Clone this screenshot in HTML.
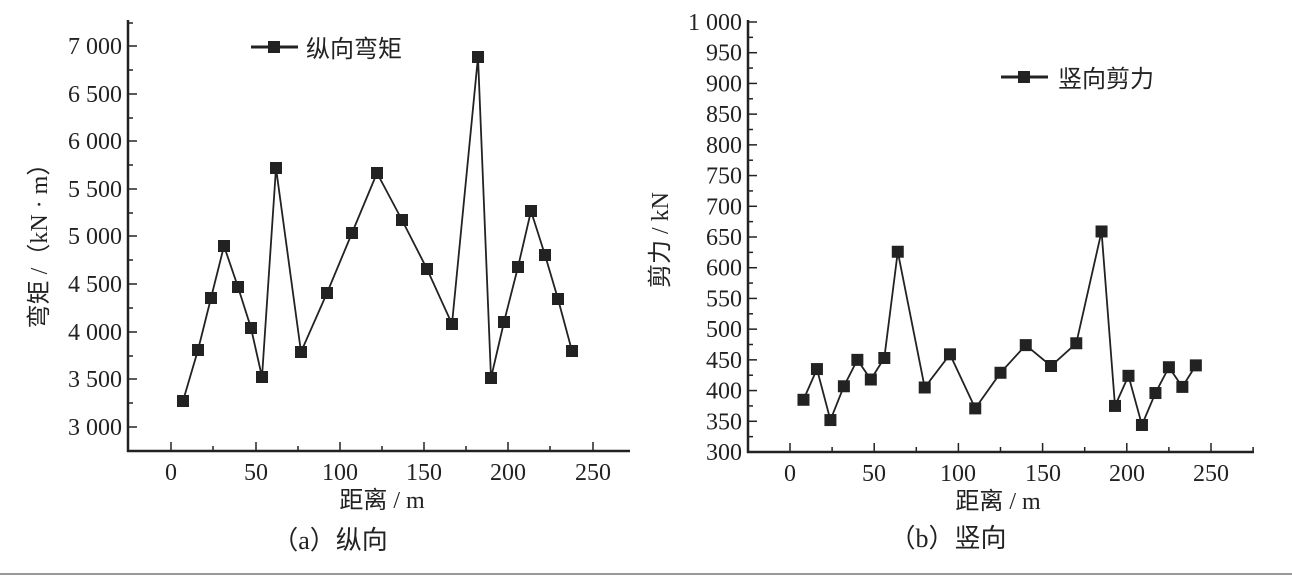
<!DOCTYPE html>
<html><head><meta charset="utf-8"><style>
body{margin:0;background:#fff;}
svg{display:block;}
text{font-family:"Liberation Serif","Noto Serif CJK SC",serif;fill:#222;}
.cj{font-family:"Liberation Serif","Noto Sans CJK SC",sans-serif;}
</style></head><body>
<svg width="1292" height="578" viewBox="0 0 1292 578" xmlns="http://www.w3.org/2000/svg">
<rect width="1292" height="578" fill="#fff"/>
<g id="a" stroke="#222" fill="none">
<line x1="128" y1="20" x2="128" y2="452" stroke-width="2.5"/>
<line x1="127" y1="451" x2="630" y2="451" stroke-width="2.5"/>
</g>
<g stroke="#222" stroke-width="1.5">
<line x1="128" y1="46" x2="137" y2="46"/><line x1="128" y1="94" x2="137" y2="94"/><line x1="128" y1="141" x2="137" y2="141"/><line x1="128" y1="189" x2="137" y2="189"/><line x1="128" y1="236" x2="137" y2="236"/><line x1="128" y1="284" x2="137" y2="284"/><line x1="128" y1="332" x2="137" y2="332"/><line x1="128" y1="379" x2="137" y2="379"/><line x1="128" y1="427" x2="137" y2="427"/>
<line x1="128" y1="70" x2="133" y2="70"/><line x1="128" y1="118" x2="133" y2="118"/><line x1="128" y1="165" x2="133" y2="165"/><line x1="128" y1="213" x2="133" y2="213"/><line x1="128" y1="260" x2="133" y2="260"/><line x1="128" y1="308" x2="133" y2="308"/><line x1="128" y1="356" x2="133" y2="356"/><line x1="128" y1="403" x2="133" y2="403"/><line x1="128" y1="23" x2="133" y2="23"/>
<line x1="171" y1="451" x2="171" y2="442"/><line x1="256" y1="451" x2="256" y2="442"/><line x1="340" y1="451" x2="340" y2="442"/><line x1="424" y1="451" x2="424" y2="442"/><line x1="508" y1="451" x2="508" y2="442"/><line x1="593" y1="451" x2="593" y2="442"/>
<line x1="213" y1="451" x2="213" y2="446"/><line x1="298" y1="451" x2="298" y2="446"/><line x1="382" y1="451" x2="382" y2="446"/><line x1="466" y1="451" x2="466" y2="446"/><line x1="550" y1="451" x2="550" y2="446"/>
</g>
<g font-size="24" text-anchor="end">
<text x="122" y="54">7 000</text><text x="122" y="102">6 500</text><text x="122" y="149">6 000</text><text x="122" y="197">5 500</text><text x="122" y="244">5 000</text><text x="122" y="292">4 500</text><text x="122" y="340">4 000</text><text x="122" y="387">3 500</text><text x="122" y="435">3 000</text>
</g>
<g font-size="24" text-anchor="middle">
<text x="171" y="480">0</text><text x="256" y="480">50</text><text x="340" y="480">100</text><text x="424" y="480">150</text><text x="508" y="480">200</text><text x="593" y="480">250</text>
<text x="382" y="508" class="cj">距离 / m</text>
<text x="330" y="549" class="cj" font-size="26">（a）纵向</text>
</g>
<text class="cj" font-size="24" text-anchor="middle" transform="translate(47,240) rotate(-90)">弯矩 /（kN · m）</text>
<polyline fill="none" stroke="#222" stroke-width="1.8" points="183,401 198,350 211,298 224,246 238,287 251,328 262,377 276,168 301,352 327,293 352,233 377,173 402,220 427,269 452,324 478,57 491,378 504,322 518,267 531,211 545,255 558,299 572,351"/>
<g fill="#222">
<rect x="177" y="395" width="12" height="12"/><rect x="192" y="344" width="12" height="12"/><rect x="205" y="292" width="12" height="12"/><rect x="218" y="240" width="12" height="12"/><rect x="232" y="281" width="12" height="12"/><rect x="245" y="322" width="12" height="12"/><rect x="256" y="371" width="12" height="12"/><rect x="270" y="162" width="12" height="12"/><rect x="295" y="346" width="12" height="12"/><rect x="321" y="287" width="12" height="12"/><rect x="346" y="227" width="12" height="12"/><rect x="371" y="167" width="12" height="12"/><rect x="396" y="214" width="12" height="12"/><rect x="421" y="263" width="12" height="12"/><rect x="446" y="318" width="12" height="12"/><rect x="472" y="51" width="12" height="12"/><rect x="485" y="372" width="12" height="12"/><rect x="498" y="316" width="12" height="12"/><rect x="512" y="261" width="12" height="12"/><rect x="525" y="205" width="12" height="12"/><rect x="539" y="249" width="12" height="12"/><rect x="552" y="293" width="12" height="12"/><rect x="566" y="345" width="12" height="12"/>
</g>
<line x1="251" y1="47" x2="298" y2="47" stroke="#222" stroke-width="3"/>
<rect x="268" y="41" width="12" height="12" fill="#222"/>
<text x="306" y="57" class="cj" font-size="24">纵向弯矩</text>

<g stroke="#222" fill="none">
<line x1="748" y1="20" x2="748" y2="453" stroke-width="2.5"/>
<line x1="747" y1="452" x2="1254" y2="452" stroke-width="2.5"/>
</g>
<g stroke="#222" stroke-width="1.5" id="bt"></g>
<g font-size="24" text-anchor="end" id="byl"></g>
<g font-size="24" text-anchor="middle">
<text x="790" y="481">0</text><text x="874" y="481">50</text><text x="958" y="481">100</text><text x="1043" y="481">150</text><text x="1127" y="481">200</text><text x="1211" y="481">250</text>
<text x="998" y="509" class="cj">距离 / m</text>
<text x="948" y="547" class="cj" font-size="26">（b）竖向</text>
</g>
<text class="cj" font-size="24" text-anchor="middle" transform="translate(668,240) rotate(-90)">剪力 / kN</text>
<polyline id="bl" fill="none" stroke="#222" stroke-width="1.8"/>
<g id="bm" fill="#222"></g>
<line x1="1001" y1="77" x2="1048" y2="77" stroke="#222" stroke-width="3"/>
<rect x="1018" y="71" width="12" height="12" fill="#222"/>
<text x="1058" y="87" class="cj" font-size="24">竖向剪力</text>
<line x1="0" y1="574" x2="1292" y2="574" stroke="#999" stroke-width="2"/>
</svg>
<script>
var ns="http://www.w3.org/2000/svg";
function el(p,t,a,txt){var e=document.createElementNS(ns,t);for(var k in a)e.setAttribute(k,a[k]);if(txt)e.textContent=txt;document.getElementById(p).appendChild(e);}
function Y(v){return 452-(v-300)*430/700;}
function X(d){return 790+d*421/250;}
for(var v=300;v<=1000;v+=25){var y=Y(v);var major=(v%50==0);el("bt","line",{x1:748,y1:y,x2:748+(major?9:5),y2:y});
if(major)el("byl","text",{x:742,y:y+8},v==1000?"1 000":String(v));}
for(var d=0;d<=275;d+=25){el("bt","line",{x1:X(d),y1:452,x2:X(d),y2:452-(d%50==0?9:5)});}
var xs=[8,16,24,32,40,48,56,64,80,95,110,125,140,155,170,185,193,201,209,217,225,233,241];
var vs=[385,435,352,407,450,418,453,626,405,459,371,429,474,440,477,659,375,424,344,396,438,406,441];
var pts=[];for(var i=0;i<xs.length;i++){var x=X(xs[i]),y=Y(vs[i]);pts.push(x+","+y);el("bm","rect",{x:x-6,y:y-6,width:12,height:12});}
document.getElementById("bl").setAttribute("points",pts.join(" "));
</script>
</body></html>
